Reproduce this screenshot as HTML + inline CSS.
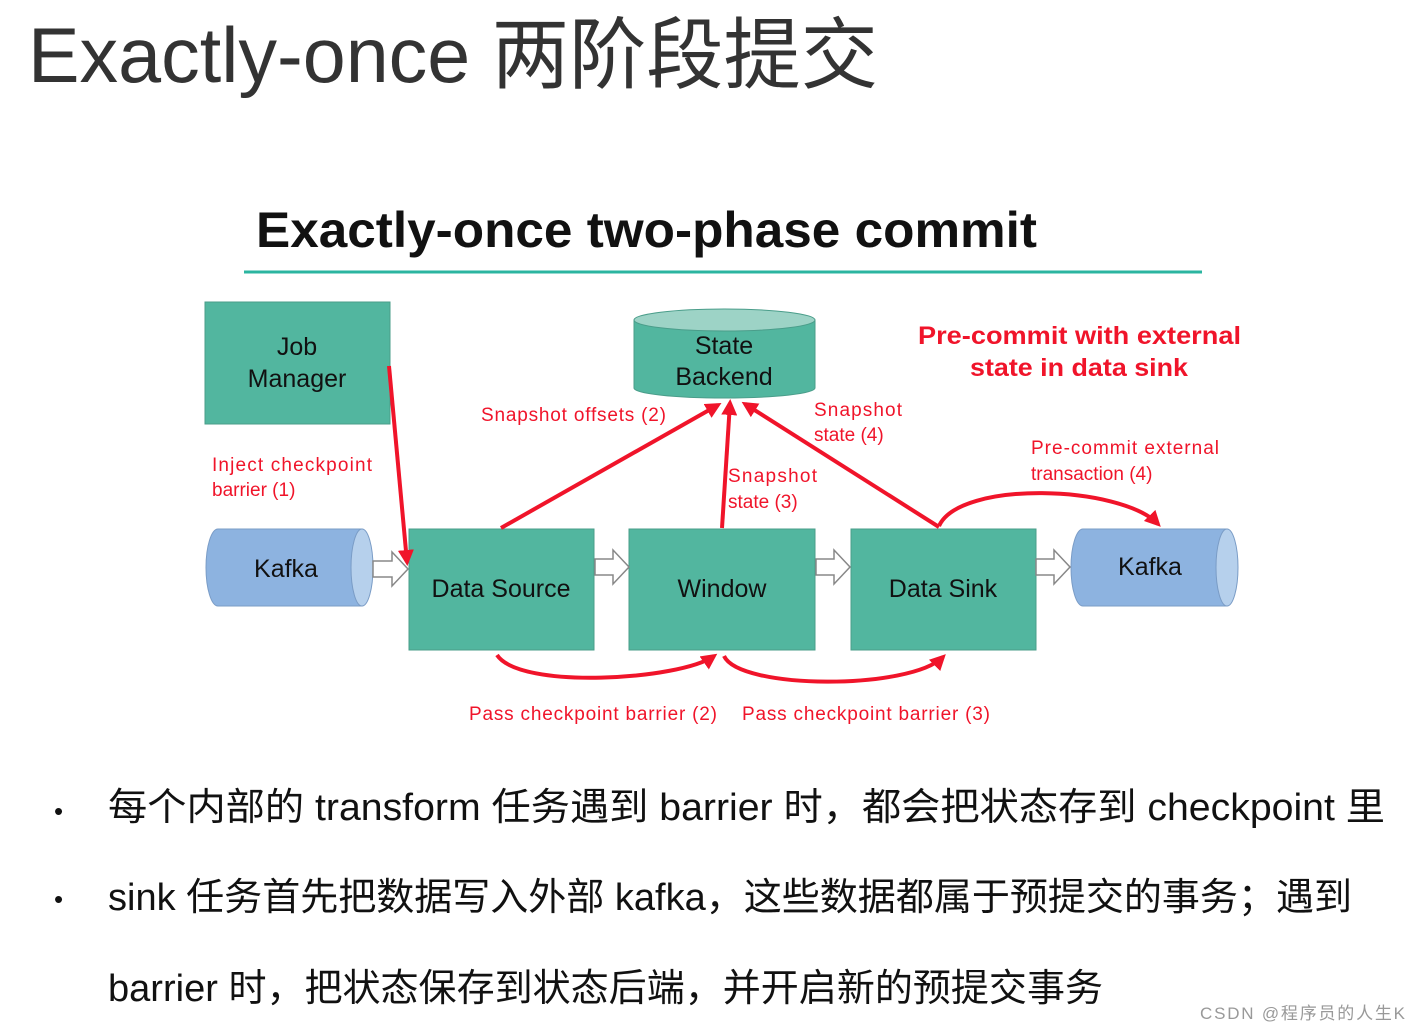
<!DOCTYPE html>
<html><head><meta charset="utf-8"><style>
html,body{margin:0;padding:0;background:#fff;width:1420px;height:1032px;overflow:hidden}
svg text{font-family:"Liberation Sans","Noto Sans CJK SC",sans-serif}
</style></head><body>
<svg width="1420" height="1032" viewBox="0 0 1420 1032" xmlns="http://www.w3.org/2000/svg">
<defs>
<marker id="ah2" markerWidth="16" markerHeight="16" refX="12" refY="8" orient="auto" markerUnits="userSpaceOnUse"><path d="M0,0 L16,8 L0,16 z" fill="#f0142a"/></marker>
</defs>
<text x="28" y="82" font-size="78" fill="#333" textLength="850" lengthAdjust="spacingAndGlyphs">Exactly-once 两阶段提交</text>
<text x="256" y="247" font-size="50" font-weight="bold" fill="#111" textLength="781" lengthAdjust="spacingAndGlyphs">Exactly-once two-phase commit</text>
<line x1="244" y1="272" x2="1202" y2="272" stroke="#2bb5a0" stroke-width="3"/>

<rect x="205" y="302" width="185" height="122" fill="#52b69f" stroke="#4a9d8a"/>
<text x="297" y="355" font-size="25" text-anchor="middle" fill="#111">Job</text>
<text x="297" y="387" font-size="25" text-anchor="middle" fill="#111">Manager</text>

<path d="M634,320 L634,388 A90.5,10 0 0 0 815,388 L815,320" fill="#52b69f" stroke="#4a9d8a"/>
<ellipse cx="724.5" cy="320" rx="90.5" ry="11" fill="#9dd3c6" stroke="#4a9d8a"/>
<text x="724" y="354" font-size="25" text-anchor="middle" fill="#111">State</text>
<text x="724" y="385" font-size="25" text-anchor="middle" fill="#111">Backend</text>

<path d="M218,529 L362,529 L362,606 L218,606 A12,38.5 0 0 1 218,529 z" fill="#8db3e0" stroke="#7a9cc6"/>
<ellipse cx="362" cy="567.5" rx="11" ry="38.5" fill="#b6d0ec" stroke="#7a9cc6"/>
<text x="286" y="577" font-size="25" text-anchor="middle" fill="#111">Kafka</text>
<path d="M1083,529 L1227,529 L1227,606 L1083,606 A12,38.5 0 0 1 1083,529 z" fill="#8db3e0" stroke="#7a9cc6"/>
<ellipse cx="1227" cy="567.5" rx="11" ry="38.5" fill="#b6d0ec" stroke="#7a9cc6"/>
<text x="1150" y="575" font-size="25" text-anchor="middle" fill="#111">Kafka</text>

<rect x="409" y="529" width="185" height="121" fill="#52b69f" stroke="#4a9d8a"/>
<text x="501" y="597" font-size="25" text-anchor="middle" fill="#111">Data Source</text>
<rect x="629" y="529" width="186" height="121" fill="#52b69f" stroke="#4a9d8a"/>
<text x="722" y="597" font-size="25" text-anchor="middle" fill="#111">Window</text>
<rect x="851" y="529" width="185" height="121" fill="#52b69f" stroke="#4a9d8a"/>
<text x="943" y="597" font-size="25" text-anchor="middle" fill="#111">Data Sink</text>

<g fill="#fff" stroke="#888" stroke-width="1.5">
<path d="M373,561 L392,561 L392,552 L408,569 L392,586 L392,577 L373,577 z"/>
<path d="M595,559 L613,559 L613,550 L629,567 L613,584 L613,575 L595,575 z"/>
<path d="M816,559 L834,559 L834,550 L850,567 L834,584 L834,575 L816,575 z"/>
<path d="M1036,559 L1054,559 L1054,550 L1070,567 L1054,584 L1054,575 L1036,575 z"/>
</g>

<g stroke="#f0142a" stroke-width="4" fill="none">
<line x1="389" y1="366" x2="407" y2="562" marker-end="url(#ah2)"/>
<line x1="501" y1="528" x2="718" y2="405" marker-end="url(#ah2)"/>
<line x1="722" y1="528" x2="730" y2="403" marker-end="url(#ah2)"/>
<line x1="939" y1="527" x2="745" y2="404" marker-end="url(#ah2)"/>
<path d="M939,526 C960,480 1120,485 1158,524" marker-end="url(#ah2)"/>
<path d="M497,655 C520,690 680,680 714,656" marker-end="url(#ah2)"/>
<path d="M724,656 C740,690 910,690 943,657" marker-end="url(#ah2)"/>
</g>

<g fill="#f0142a" font-size="19">
<text x="481" y="421" textLength="185">Snapshot offsets (2)</text>
<text x="212" y="471" textLength="160">Inject checkpoint</text>
<text x="212" y="496">barrier (1)</text>
<text x="728" y="482" textLength="89">Snapshot</text>
<text x="728" y="508">state (3)</text>
<text x="814" y="416" textLength="88">Snapshot</text>
<text x="814" y="441">state (4)</text>
<text x="1031" y="454" textLength="188">Pre-commit external</text>
<text x="1031" y="480">transaction (4)</text>
<text x="469" y="720" textLength="248">Pass checkpoint barrier (2)</text>
<text x="742" y="720" textLength="248">Pass checkpoint barrier (3)</text>
</g>
<text x="918" y="344" font-size="25" font-weight="bold" fill="#f0142a" textLength="323" lengthAdjust="spacingAndGlyphs">Pre-commit with external</text>
<text x="970" y="376" font-size="25" font-weight="bold" fill="#f0142a" textLength="218" lengthAdjust="spacingAndGlyphs">state in data sink</text>

<g font-size="38" fill="#111">
<text x="54" y="820" font-size="26">•</text>
<text x="108" y="820" textLength="1277" lengthAdjust="spacingAndGlyphs">每个内部的 transform 任务遇到 barrier 时，都会把状态存到 checkpoint 里</text>
<text x="54" y="908" font-size="26">•</text>
<text x="108" y="910" textLength="1244" lengthAdjust="spacingAndGlyphs">sink 任务首先把数据写入外部 kafka，这些数据都属于预提交的事务；遇到</text>
<text x="108" y="1001" textLength="995" lengthAdjust="spacingAndGlyphs">barrier 时，把状态保存到状态后端，并开启新的预提交事务</text>
</g>
<text x="1200" y="1019" font-size="17" fill="#999" textLength="205">CSDN @程序员的人生K</text>
</svg>
</body></html>
